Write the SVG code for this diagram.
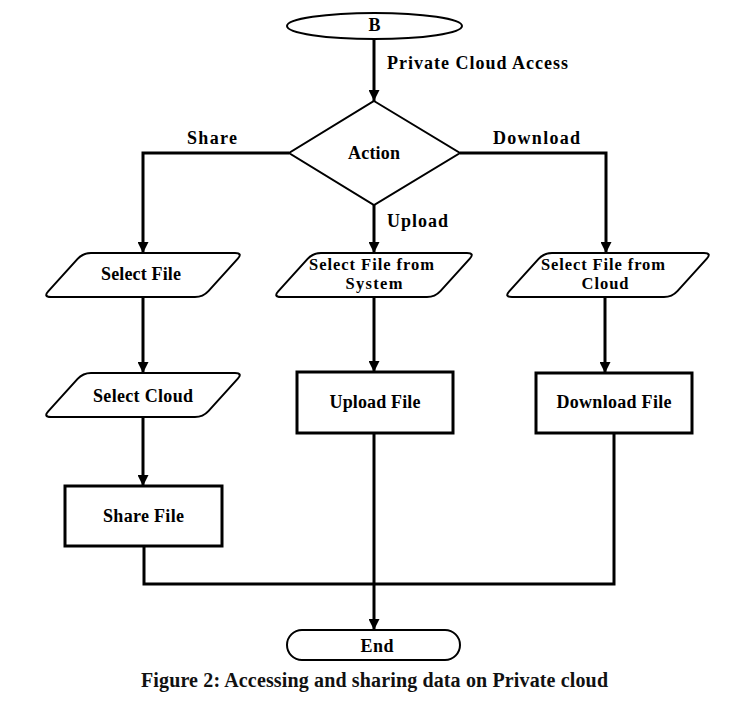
<svg xmlns="http://www.w3.org/2000/svg" width="748" height="712" viewBox="0 0 748 712">
<style>
text{font-family:"Liberation Serif","Times New Roman",serif;font-weight:bold;font-size:18px;fill:#000}
.lbl{text-anchor:start}
.c{text-anchor:middle}
.two{font-size:16.5px}
.shape{fill:#fff;stroke:#000;stroke-width:2}
.box{fill:#fff;stroke:#000;stroke-width:3}
.conn{fill:none;stroke:#000;stroke-width:3}
.cap{font-size:20px;fill:#111}
</style>
<defs>
<marker id="arr" markerUnits="userSpaceOnUse" markerWidth="11" markerHeight="11" refX="11" refY="5.5" orient="auto">
<path d="M0,0 L11,5.5 L0,11 Z" fill="#000"/>
</marker>
</defs>
<g id="connectors">
<path class="conn" d="M374,39 V101" marker-end="url(#arr)"/>
<path class="conn" d="M289,153 H143 V253" marker-end="url(#arr)"/>
<path class="conn" d="M460,153 H606 V253" marker-end="url(#arr)"/>
<path class="conn" d="M374,205 V253" marker-end="url(#arr)"/>
<path class="conn" d="M143,297 V373" marker-end="url(#arr)"/>
<path class="conn" d="M143,417 V486" marker-end="url(#arr)"/>
<path class="conn" d="M374,297 V372" marker-end="url(#arr)"/>
<path class="conn" d="M605,297 V373" marker-end="url(#arr)"/>
<path class="conn" d="M144,546 V584 H614 V433"/>
<path class="conn" d="M374,433 V630" marker-end="url(#arr)"/>
<text class="lbl" x="387" y="69" textLength="181" lengthAdjust="spacing">Private Cloud Access</text>
<text class="lbl" x="187" y="144" textLength="50" lengthAdjust="spacing">Share</text>
<text class="lbl" x="493" y="144" textLength="87" lengthAdjust="spacing">Download</text>
<text class="lbl" x="387" y="227" textLength="61" lengthAdjust="spacing">Upload</text>
</g>
<g id="start">
<ellipse class="shape" cx="374.5" cy="26" rx="87.5" ry="13"/>
<text class="c" x="374.5" y="31">B</text>
</g>
<g id="action">
<path class="shape" d="M374,101 L460,153 L374,205 L289,153 Z"/>
<text class="c" x="374" y="159" textLength="52" lengthAdjust="spacing">Action</text>
</g>
<g id="select-file">
<path class="shape" d="M91,253 L235,253 Q243,253 237.6,258.9 L208.4,291.1 Q203,297 195,297 L51,297 Q43,297 48.4,291.1 L77.6,258.9 Q83,253 91,253 Z"/>
<text class="c" x="141" y="280" textLength="80" lengthAdjust="spacing">Select File</text>
</g>
<g id="select-file-system">
<path class="shape" d="M321,253 L467,253 Q475,253 469.6,258.9 L440.4,291.1 Q435,297 427,297 L281,297 Q273,297 278.4,291.1 L307.6,258.9 Q313,253 321,253 Z"/>
<text class="c two" x="371.5" y="270" textLength="125" lengthAdjust="spacing">Select File from</text>
<text class="c two" x="374" y="289" textLength="57" lengthAdjust="spacing">System</text>
</g>
<g id="select-file-cloud">
<path class="shape" d="M552,253 L704,253 Q712,253 706.6,258.9 L677.4,291.1 Q672,297 664,297 L512,297 Q504,297 509.4,291.1 L538.6,258.9 Q544,253 552,253 Z"/>
<text class="c two" x="603" y="270" textLength="124" lengthAdjust="spacing">Select File from</text>
<text class="c two" x="605" y="289" textLength="47" lengthAdjust="spacing">Cloud</text>
</g>
<g id="select-cloud">
<path class="shape" d="M91,373 L235,373 Q243,373 237.6,378.9 L208.4,411.1 Q203,417 195,417 L51,417 Q43,417 48.4,411.1 L77.6,378.9 Q83,373 91,373 Z"/>
<text class="c" x="143" y="402" textLength="100" lengthAdjust="spacing">Select Cloud</text>
</g>
<g id="upload-file">
<rect class="box" x="297" y="372" width="156" height="61"/>
<text class="c" x="375" y="408" textLength="91" lengthAdjust="spacing">Upload File</text>
</g>
<g id="download-file">
<rect class="box" x="536" y="373" width="156" height="60"/>
<text class="c" x="614" y="408" textLength="115" lengthAdjust="spacing">Download File</text>
</g>
<g id="share-file">
<rect class="box" x="65" y="486" width="157" height="60"/>
<text class="c" x="143.5" y="522" textLength="81" lengthAdjust="spacing">Share File</text>
</g>
<g id="end">
<rect class="shape" x="287" y="630" width="173" height="30" rx="15" ry="15"/>
<text class="c" x="377" y="652" textLength="33" lengthAdjust="spacing">End</text>
</g>
<text class="c cap" x="374.5" y="687" textLength="467" lengthAdjust="spacing">Figure 2: Accessing and sharing data on Private cloud</text>
</svg>
